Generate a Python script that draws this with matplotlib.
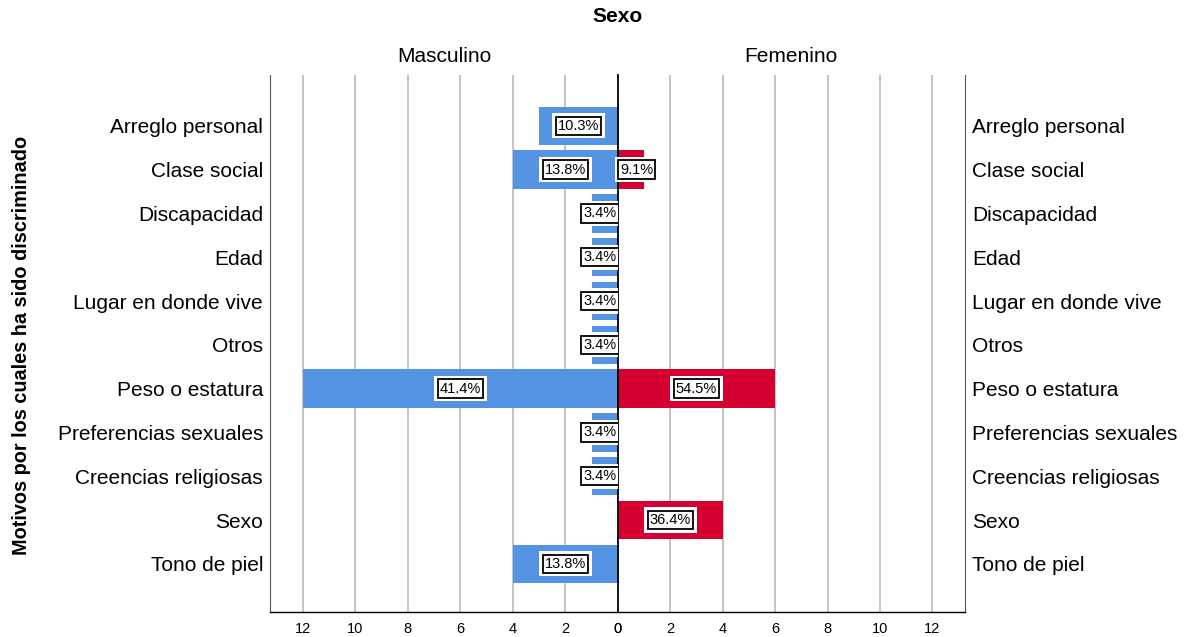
import matplotlib
matplotlib.use("Agg")
import matplotlib.pyplot as plt
import numpy as np

plt.rcParams['font.family'] = ['Liberation Sans', 'DejaVu Sans']

categories = ["Arreglo personal", "Clase social", "Discapacidad", "Edad",
              "Lugar en donde vive", "Otros", "Peso o estatura",
              "Preferencias sexuales", "Creencias religiosas", "Sexo", "Tono de piel"]
masculino = [3, 4, 1, 1, 1, 1, 12, 1, 1, 0, 4]
femenino = [0, 1, 0, 0, 0, 0, 6, 0, 0, 4, 0]
ticks = [0, 2, 4, 6, 8, 10, 12]

BLUE = "#5594E3"
RED = "#D50032"
GRID = "#BEBEBE"

fig = plt.figure(figsize=(11.93, 6.37), dpi=100)
bottom = 1 - 612 / 637
height = (612 - 75) / 637
axL = fig.add_axes([270 / 1193, bottom, (618 - 270) / 1193, height])
axR = fig.add_axes([618 / 1193, bottom, (965 - 618) / 1193, height])

y = np.arange(len(categories))
ylim = (len(categories) - 1 + 1.1, -1.16)
xmax = 13.25

def label(ax, v, yi, total, side):
    pct = f"{100 * v / total:.1f}%"
    if v <= 1.5:
        x = 0
        ha = 'right' if side == 'L' else 'left'
        off = -1 if side == 'L' else 1.5
    else:
        x = v / 2
        ha = 'center'
        off = 0
    kw = dict(ha=ha, va='center', fontsize=10.5, zorder=5,
              textcoords='offset points', xytext=(off, 0))
    ax.annotate(pct, (x, yi), color='white',
                bbox=dict(boxstyle='square,pad=0.38', fc='white', ec='white', lw=0), **kw)
    ax.annotate(pct, (x, yi), color='black',
                bbox=dict(boxstyle='square,pad=0.15', fc='white', ec='black', lw=1.3), **kw)

for ax, vals, color, side in [(axL, masculino, BLUE, 'L'), (axR, femenino, RED, 'R')]:
    ax.set_ylim(*ylim)
    if side == 'L':
        ax.set_xlim(xmax, 0)
    else:
        ax.set_xlim(0, xmax)
    for t in ticks[1:]:
        ax.axvline(t, color=GRID, lw=1.3, zorder=0)
    ax.barh(y, vals, height=0.88, color=color, zorder=2)
    total = sum(vals)
    for yi, v in zip(y, vals):
        if v > 0:
            label(ax, v, yi, total, side)
    ax.set_xticks(ticks)
    ax.set_xticklabels([str(t) for t in ticks], fontsize=10.5)
    ax.tick_params(axis='x', length=0, pad=7)
    ax.set_yticks(y)
    ax.set_yticklabels(categories, fontsize=15)
    ax.tick_params(axis='y', length=0, pad=5)
    ax.spines['top'].set_visible(False)
    ax.spines['bottom'].set_color('black')
    ax.spines['bottom'].set_linewidth(1.0)
    if side == 'L':
        ax.spines['left'].set_color('#555555')
        ax.spines['right'].set_color('black')
        ax.spines['right'].set_linewidth(1.3)
    else:
        ax.spines['left'].set_visible(False)
        ax.spines['right'].set_color('#555555')
        ax.yaxis.tick_right()

axR.axvline(0, color='black', lw=1.3, zorder=4)

fig.text(618 / 1193, 1 - 17 / 637, "Sexo", ha='center', va='center', fontsize=15, fontweight='bold')
fig.text(444 / 1193, 1 - 57 / 637, "Masculino", ha='center', va='center', fontsize=15)
fig.text(791 / 1193, 1 - 57 / 637, "Femenino", ha='center', va='center', fontsize=15)
fig.text(22 / 1193, 1 - 345 / 637, "Motivos por los cuales ha sido discriminado",
         ha='center', va='center', rotation=90, fontsize=14.3, fontweight='bold')

fig.savefig("out.png", dpi=100)
